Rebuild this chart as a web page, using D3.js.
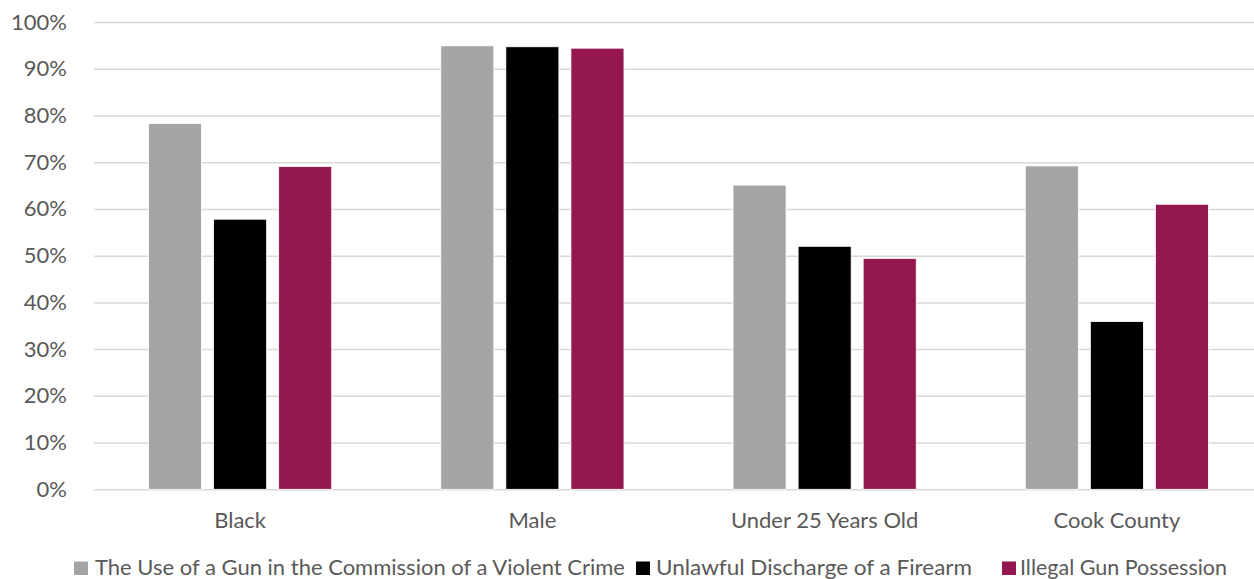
<!DOCTYPE html>
<html>
<head>
<meta charset="utf-8">
<script src="https://cdn.jsdelivr.net/npm/d3@7"></script>
<style>
  html, body { margin: 0; padding: 0; background: #fff; }
  svg { display: block; font-family: "Lato", "Open Sans", sans-serif; }
</style>
</head>
<body>
<svg id="chart" width="1254" height="579"></svg>
<script>
// Share of people sentenced for each gun offense, by group
const categories = ["Black", "Male", "Under 25 Years Old", "Cook County"];
const seriesNames = [
  "The Use of a Gun in the Commission of a Violent Crime",
  "Unlawful Discharge of a Firearm",
  "Illegal Gun Possession"
];
const violentCrime = [0.783, 0.949, 0.651, 0.692];
const unlawfulDischarge = [0.578, 0.947, 0.520, 0.359];
const illegalPossession = [0.691, 0.944, 0.494, 0.610];
const yTicks = [0, 0.1, 0.2, 0.3, 0.4, 0.5, 0.6, 0.7, 0.8, 0.9, 1.0];
const colors = ["#A5A5A5", "#000000", "#95174F"];

const seriesValues = [violentCrime, unlawfulDischarge, illegalPossession];
const rows = [];
categories.forEach((c, i) => {
  seriesNames.forEach((s, j) => rows.push({ category: c, series: s, idx: j, value: seriesValues[j][i] }));
});

const FONT = "Lato, 'Open Sans', sans-serif";
const svg = d3.select("#chart");
const plot = { left: 94, right: 1263, top: 22, bottom: 489.3 };

const x = d3.scaleBand().domain(categories).range([plot.left, plot.right]).padding(0);
const xSub = d3.scaleBand().domain(seriesNames).range([0, x.bandwidth()])
  .paddingInner(12 / 65).paddingOuter(0.838);
const y = d3.scaleLinear().domain([0, 1]).range([plot.bottom, plot.top]);

// gridlines and percentage labels
const yAxis = svg.append("g")
  .attr("transform", `translate(${plot.left},0)`)
  .call(d3.axisLeft(y).tickValues(yTicks).tickFormat(d3.format(".0%")).tickSize(-(plot.right - plot.left)).tickPadding(27));
yAxis.attr("font-family", FONT).attr("font-size", 22);
yAxis.select(".domain").remove();
yAxis.selectAll(".tick line").attr("stroke", "#D9D9D9").attr("stroke-width", 1.5);
yAxis.selectAll(".tick text").attr("fill", "#595959");

// bars
svg.append("g").selectAll("rect").data(rows).join("rect")
  .attr("x", d => x(d.category) + xSub(d.series))
  .attr("width", xSub.bandwidth())
  .attr("y", d => y(d.value))
  .attr("height", d => y(0) - y(d.value))
  .attr("fill", d => colors[d.idx])
  .attr("stroke", "#ffffff")
  .attr("stroke-width", 0.8);

// category labels
const xAxis = svg.append("g")
  .attr("transform", `translate(0,${plot.bottom})`)
  .call(d3.axisBottom(x).tickSize(0).tickPadding(23));
xAxis.attr("font-family", FONT).attr("font-size", 22);
xAxis.select(".domain").remove();
xAxis.selectAll(".tick text").attr("fill", "#595959");

// legend
const legendItems = [
  { sq: 74, tx: 95, w: 530 },
  { sq: 636, tx: 656, w: 316 },
  { sq: 1002, tx: 1020, w: 207 }
];
const legend = svg.append("g").attr("font-family", FONT);
seriesNames.forEach((s, j) => {
  const it = legendItems[j];
  legend.append("rect").attr("x", it.sq).attr("y", 561.5).attr("width", 14).attr("height", 13.5).attr("fill", colors[j]);
  legend.append("text").attr("x", it.tx).attr("y", 575)
    .attr("fill", "#595959").attr("font-size", 22)
    .attr("textLength", it.w).attr("lengthAdjust", "spacingAndGlyphs")
    .text(s);
});
</script>
</body>
</html>
